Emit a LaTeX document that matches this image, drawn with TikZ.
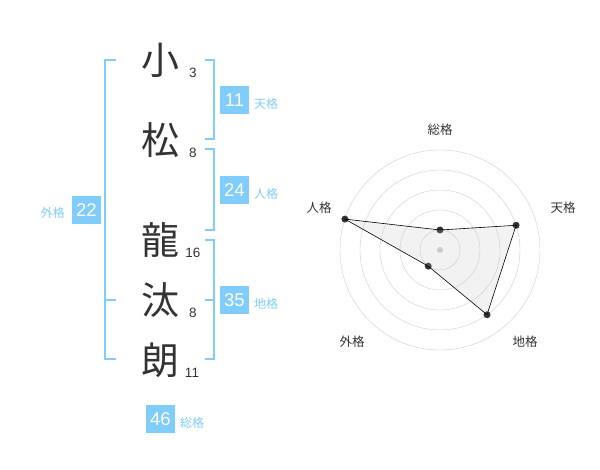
\documentclass[tikz,border=0pt]{standalone}
\usepackage{fontspec}
\setmainfont{Liberation Sans}
\newfontfamily\jp{Noto Sans CJK JP}
\definecolor{sky}{RGB}{128,204,250}
\definecolor{ink}{RGB}{51,51,51}
\tikzset{
 kanji/.style={font=\jp\fontsize{38}{38}\selectfont, text=ink, inner sep=0pt},
 strokes/.style={font=\fontsize{13.5}{13.5}\selectfont, text=ink, inner sep=0pt},
 scorebox/.style={fill=sky, text=white, minimum width=29pt, minimum height=28pt, inner sep=0pt, font=\fontsize{18.5}{18.5}\selectfont},
 kaku/.style={font=\jp\fontsize{12}{12}\selectfont, text=sky, inner sep=0pt},
 brk/.style={draw=sky, line width=2pt},
 axislabel/.style={font=\jp\fontsize{12.5}{12.5}\selectfont, text=ink, inner sep=0pt},
 dot/.style={circle, fill=ink, minimum size=7pt, inner sep=0pt},
}
\begin{document}
\begin{tikzpicture}[x=1pt,y=-1pt]
\useasboundingbox (0,0) rectangle (600,470);
\node[kanji] (k1) at (160,60) {小};
\node[kanji] (k2) at (160,140) {松};
\node[kanji] (k3) at (160,240) {龍};
\node[kanji] (k4) at (160,300) {汰};
\node[kanji] (k5) at (160,360) {朗};
\node[strokes] (n1) at (193,73) {3};
\node[strokes] (n2) at (193,153) {8};
\node[strokes] (n3) at (193,253) {16};
\node[strokes] (n4) at (193,313) {8};
\node[strokes] (n5) at (192,373) {11};
\draw[brk] (116,60)--(105,60)--(105,359)--(116,359);
\draw[brk] (105,300)--(116,300);
\draw[brk] (205,60)--(214,60)--(214,139)--(205,139);
\draw[brk] (205,149)--(214,149)--(214,230)--(205,230);
\draw[brk] (205,240)--(214,240)--(214,359)--(205,359);
\draw[brk] (205,300)--(214,300);
\node[scorebox] (ten) at (234.5,100) {11};
\node[kaku, anchor=west] (tenl) at (254,104) {天格};
\node[scorebox] (jin) at (234.5,190) {24};
\node[kaku, anchor=west] (jinl) at (254,194) {人格};
\node[scorebox] (chi) at (234.5,300) {35};
\node[kaku, anchor=west] (chil) at (254,304) {地格};
\node[scorebox] (gai) at (86.5,210) {22};
\node[kaku, anchor=east] (gail) at (65,213) {外格};
\node[scorebox] (sou) at (160.5,419) {46};
\node[kaku, anchor=west] (soul) at (180,423) {総格};
\begin{scope}[shift={(440,250)}, y=1pt]
\foreach \r in {20,40,60,80,100}
  \draw[gray!40] (0,0) circle (\r);
\fill[gray!40] (0,0) circle (3);
\node[dot] (s) at (90:20) {};
\node[dot] (t) at (18:80) {};
\node[dot] (c) at (-54:80) {};
\node[dot] (g) at (-126:20) {};
\node[dot] (j) at (162:100) {};
\filldraw[fill=gray!50, fill opacity=0.2, draw=black, line width=0.6pt]
  (s.center)--(t.center)--(c.center)--(g.center)--(j.center)--cycle;
\node[axislabel] (sa) at (0,120) {総格};
\node[axislabel] (ta) at (123,42) {天格};
\node[axislabel] (ja) at (-121,42) {人格};
\node[axislabel] (ga) at (-88,-92) {外格};
\node[axislabel] (ca) at (85,-92) {地格};
\end{scope}
\end{tikzpicture}
\end{document}
